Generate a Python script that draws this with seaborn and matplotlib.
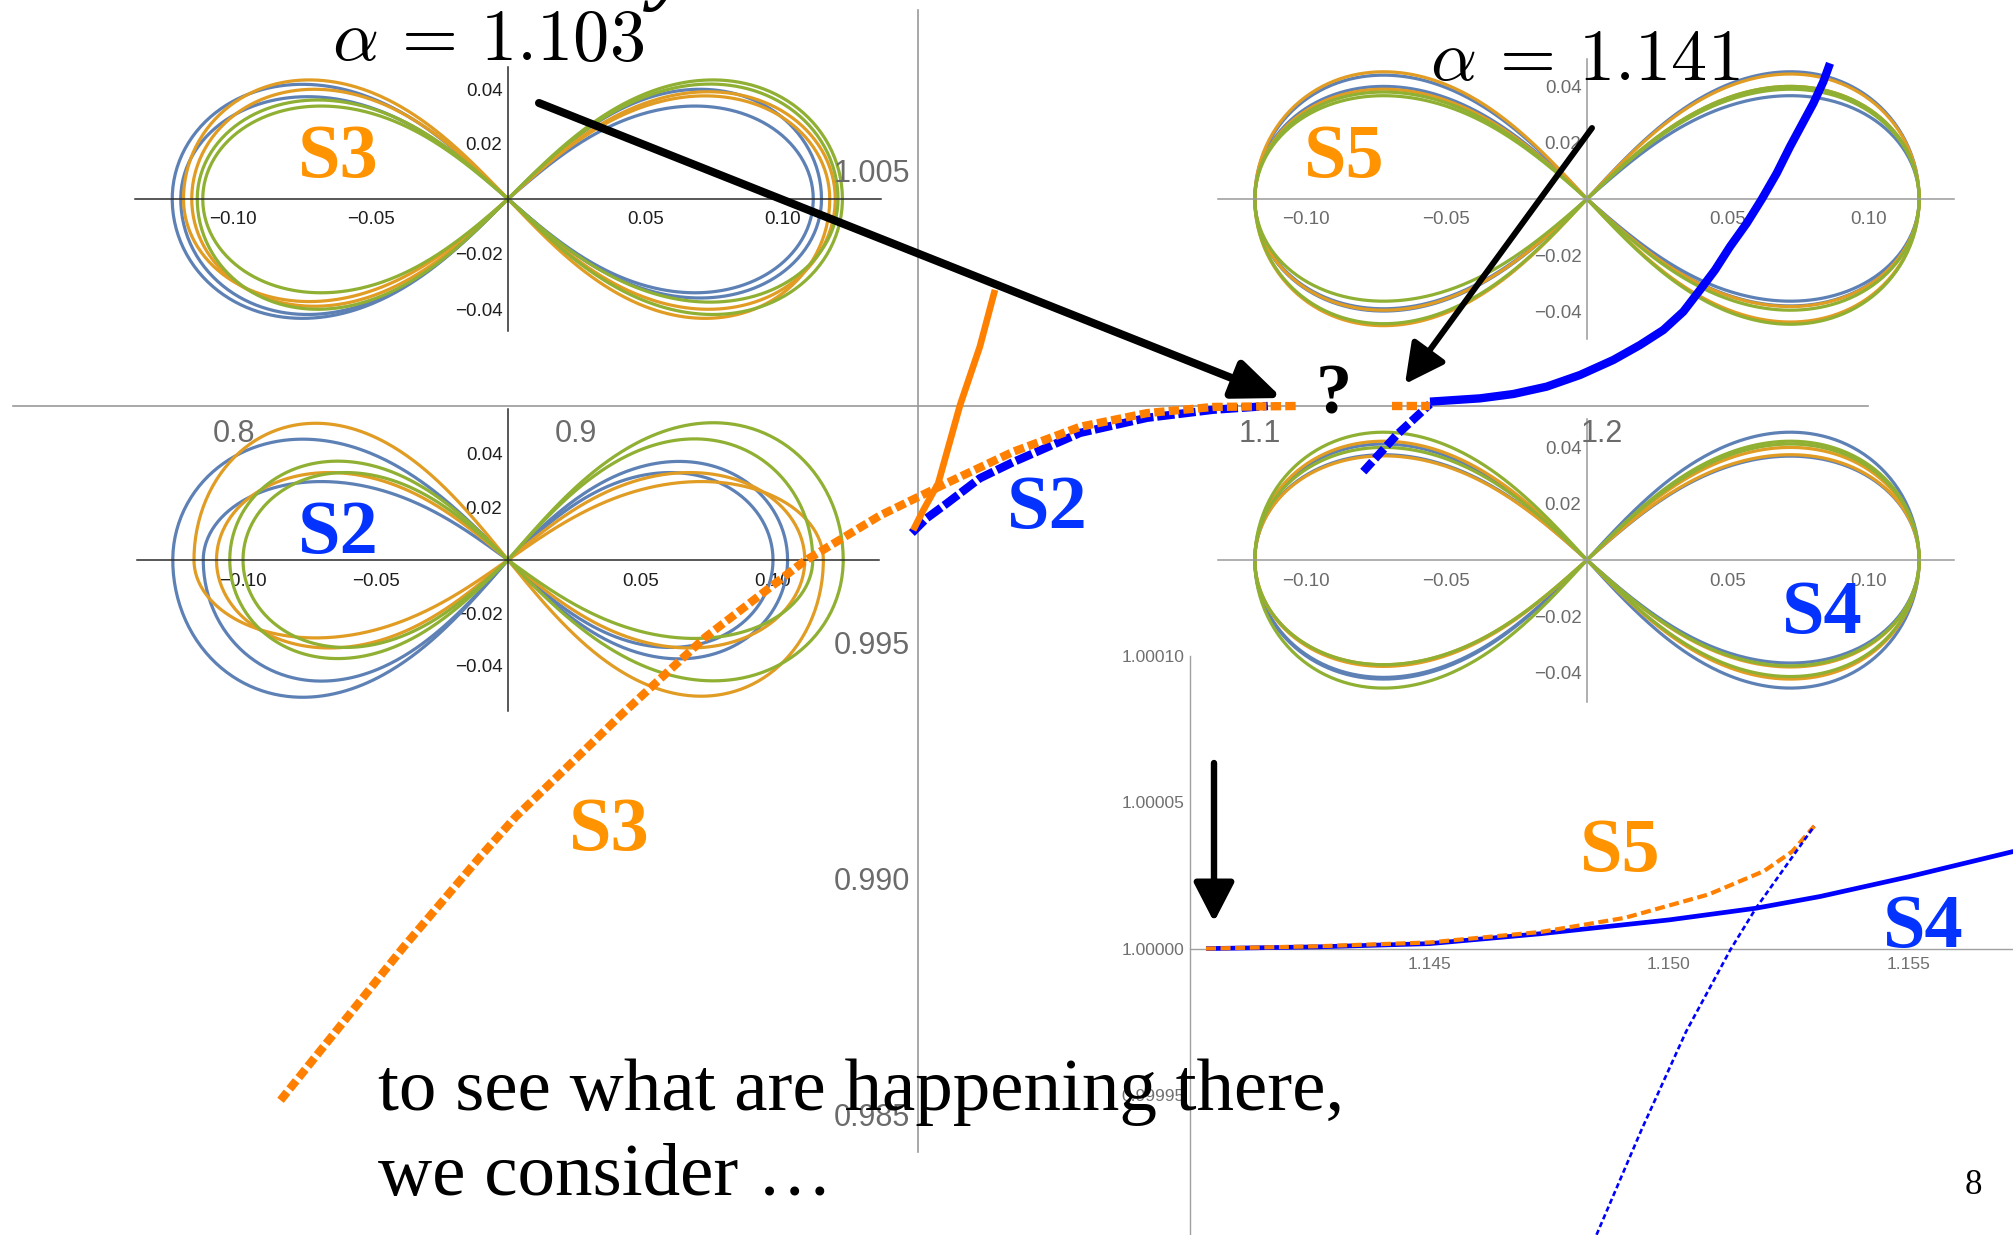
import numpy as np
import matplotlib
matplotlib.use("Agg")
import matplotlib.pyplot as plt
import seaborn as sns
from matplotlib.ticker import FixedLocator, FixedFormatter

# ---------------- data ----------------
# main diagram: branches near alpha ~ 1 (x = alpha, y = value)
s3_x = [0.8136, 0.8311, 0.8495, 0.8721, 0.8824, 0.9131, 0.9378, 0.9665, 0.9889,
        1.0085, 1.0278, 1.0474, 1.0670, 1.0863, 1.1108]
s3_y = [0.98529, 0.98687, 0.98853, 0.99046, 0.99130, 0.99345, 0.99510, 0.99670, 0.99768,
        0.99837, 0.99903, 0.99956, 0.99985, 0.99998, 1.00000]

s2_x = [0.9982, 1.0025, 1.0085, 1.0181, 1.0278, 1.0474, 1.0670, 1.0863, 1.1023]
s2_y = [0.99731, 0.99762, 0.99794, 0.99847, 0.99881, 0.99943, 0.99975, 0.99992, 1.00000]

branch_x = [0.9986, 1.0016, 1.0059, 1.0123, 1.0181, 1.0225]
branch_y = [0.99737, 0.99780, 0.99836, 1.00002, 1.00126, 1.00246]

s4_x = [1.14971, 1.16433, 1.17407, 1.18382, 1.19357, 1.20331, 1.21111, 1.21793, 1.22378,
        1.22865, 1.23304, 1.23743, 1.24230, 1.24669, 1.25107, 1.25497, 1.25838, 1.26179,
        1.26472, 1.26667]
s4_y = [1.000092, 1.000162, 1.000254, 1.000410, 1.000657, 1.000975, 1.001292, 1.001610,
        1.001999, 1.002458, 1.002881, 1.003376, 1.003870, 1.004379, 1.004929, 1.005494,
        1.005953, 1.006412, 1.006871, 1.007260]

s5_x = [1.1385, 1.1497]
s5_y = [1.00000, 1.00000]

steep_x = [1.1302, 1.1400, 1.1497]
steep_y = [0.99861, 0.99939, 1.00004]

# zoomed view around alpha = 1.141
z_s4_x = [1.14033, 1.14266, 1.1450, 1.14733, 1.1500, 1.15182, 1.15316, 1.1550, 1.1572]
z_s4_y = [1.0, 1.0000006, 1.0000017, 1.0000051, 1.0000098, 1.0000138, 1.0000178,
          1.0000245, 1.0000332]
z_s5_x = [1.14033, 1.14266, 1.1450, 1.14733, 1.14908, 1.15083, 1.15199, 1.15258, 1.15304]
z_s5_y = [1.0, 1.0000008, 1.0000021, 1.0000057, 1.0000105, 1.0000185, 1.0000265,
          1.0000332, 1.0000419]
z_dot_x = [1.14849, 1.14943, 1.15036, 1.15129, 1.15182, 1.15304]
z_dot_y = [0.9999022, 0.9999381, 0.9999716, 0.9999997, 1.0000138, 1.0000419]

# orbit shapes: (colour, left width, left top, left bottom, right width, right top, right bottom)
S3_ORBITS = [("b", .1221, .0417, -.0434, .1110, .0338, -.0341),
             ("b", .1190, .0372, -.0420, .1140, .0399, -.0360),
             ("o", .1180, .0433, -.0373, .1170, .0375, -.0434),
             ("o", .1150, .0399, -.0390, .1190, .0390, -.0401),
             ("g", .1110, .0338, -.0341, .1216, .0433, -.0420),
             ("g", .1130, .0360, -.0401, .1200, .0418, -.0375)]
S5_ORBITS = [("b", .118, .0440, -.0398, .118, .0452, -.0363),
             ("b", .118, .0400, -.0390, .118, .0367, -.0380),
             ("o", .118, .0452, -.0450, .118, .0444, -.0437),
             ("o", .118, .0390, -.0395, .118, .0400, -.0382),
             ("g", .118, .0367, -.0363, .118, .0400, -.0445),
             ("g", .118, .0380, -.0443, .118, .0390, -.0395)]
S2_ORBITS = [("b", .1265, .0456, -.0518, .1055, .0372, -.0373),
             ("b", .1150, .0296, -.0457, .1000, .0330, -.0330),
             ("o", .1185, .0516, -.0294, .1190, .0296, -.0514),
             ("o", .1100, .0330, -.0332, .1120, .0330, -.0332),
             ("g", .1050, .0373, -.0372, .1265, .0518, -.0456),
             ("g", .1000, .0330, -.0330, .1150, .0457, -.0296)]
S4_ORBITS = [("b", .118, .0412, -.0423, .118, .0454, -.0455),
             ("b", .118, .0374, -.0417, .118, .0369, -.0366),
             ("o", .118, .0422, -.0378, .118, .0374, -.0423),
             ("o", .118, .0370, -.0372, .118, .0400, -.0380),
             ("g", .118, .0454, -.0455, .118, .0422, -.0414),
             ("g", .118, .0400, -.0372, .118, .0412, -.0376)]

ORBIT_COLORS = {"b": "#5E81B5", "o": "#E19C24", "g": "#8FB032"}
MAIN_X_TICKS = [0.8, 0.9, 1.1, 1.2]
MAIN_X_LABELS = ["0.8", "0.9", "1.1", "1.2"]
MAIN_Y_TICKS = [0.985, 0.990, 0.995, 1.005]
MAIN_Y_LABELS = ["0.985", "0.990", "0.995", "1.005"]
ZOOM_X_TICKS = [1.145, 1.150, 1.155]
ZOOM_X_LABELS = ["1.145", "1.150", "1.155"]
ZOOM_Y_TICKS = [0.99990, 0.99995, 1.00000, 1.00005, 1.00010]
ZOOM_Y_LABELS = ["0.99990", "0.99995", "1.00000", "1.00005", "1.00010"]
ORB_X_TICKS = [-0.10, -0.05, 0.05, 0.10]
ORB_X_LABELS = ["\u22120.10", "\u22120.05", "0.05", "0.10"]
ORB_Y_TICKS = [-0.04, -0.02, 0.02, 0.04]
ORB_Y_LABELS = ["\u22120.04", "\u22120.02", "0.02", "0.04"]

# ---------------- styling ----------------
W, H = 2013, 1235
sns.set_theme(style="white")
plt.rcParams["font.family"] = ["Liberation Sans", "DejaVu Sans"]
plt.rcParams["mathtext.fontset"] = "cm"
SERIF = ["Liberation Serif", "DejaVu Serif"]
ORANGE_LINE = "#FF8000"
BLUE_LINE = "#0000FF"
ORANGE_TXT = "#FF9300"
BLUE_TXT = "#0433FF"

fig = plt.figure(figsize=(W / 100, H / 100), dpi=100)
fig.patch.set_facecolor("white")


def px_axes(left, top, right, bottom, z):
    ax = fig.add_axes([left / W, 1 - bottom / H, (right - left) / W, (bottom - top) / H])
    ax.set_zorder(z)
    ax.patch.set_alpha(0)
    return ax


def line(ax, x, y, color, lw, dashes=None, z=3):
    kw = dict(x=np.asarray(x), y=np.asarray(y), ax=ax, color=color, lw=lw,
              sort=False, estimator=None, legend=False, zorder=z)
    if dashes is not None:
        kw["linestyle"] = (0, dashes)
        kw["dash_capstyle"] = "butt"
    else:
        kw["solid_capstyle"] = "butt"
    kw["solid_joinstyle"] = "round"
    sns.lineplot(**kw)


def orbit_path(lw_, lt, lb, rw, rt, rb, n=600):
    t = np.linspace(0, 2 * np.pi, n)
    d = 1 + np.sin(t) ** 2
    u = np.cos(t) / d
    v = np.sin(t) * np.cos(t) / d / 0.353553
    x = np.where(u >= 0, u * rw, u * lw_)
    top = np.where(u >= 0, rt, lt)
    bot = np.where(u >= 0, abs(rb), abs(lb))
    y = np.where(v >= 0, v * top, v * bot)
    return x, y


def orbit_panel(center, scale, xr, yr, orbits, axis_col, label_col):
    cx, cy = center
    ax = px_axes(cx + xr[0] * scale, cy - yr[1] * scale, cx + xr[1] * scale,
                 cy - yr[0] * scale, z=1)
    for c, *dims in orbits:
        x, y = orbit_path(*dims)
        line(ax, x, y, ORBIT_COLORS[c], 2.3, z=2)
    ax.set_xlim(*xr)
    ax.set_ylim(*yr)
    for s in ("top", "right"):
        ax.spines[s].set_visible(False)
    ax.spines["left"].set_position(("data", 0))
    ax.spines["bottom"].set_position(("data", 0))
    for s in ("left", "bottom"):
        ax.spines[s].set_color(axis_col)
        ax.spines[s].set_linewidth(1.1)
    ax.xaxis.set_major_locator(FixedLocator(ORB_X_TICKS))
    ax.xaxis.set_major_formatter(FixedFormatter(ORB_X_LABELS))
    ax.yaxis.set_major_locator(FixedLocator(ORB_Y_TICKS))
    ax.yaxis.set_major_formatter(FixedFormatter(ORB_Y_LABELS))
    ax.xaxis.set_minor_locator(FixedLocator(np.round(np.arange(-0.13, 0.131, 0.01), 3)))
    ax.yaxis.set_minor_locator(FixedLocator(np.round(np.arange(-0.055, 0.056, 0.005), 3)))
    ax.tick_params(which="both", direction="in", color=axis_col, width=1,
                   labelcolor=label_col, labelsize=13.5)
    ax.tick_params(which="major", length=5.5)
    ax.tick_params(which="minor", length=2.8)
    ax.tick_params(axis="x", which="major", pad=9)
    ax.tick_params(axis="y", which="major", pad=4)
    ax.set_xlabel("")
    ax.set_ylabel("")
    ax.grid(False)
    return ax


# ---------------- orbit insets ----------------
orbit_panel((508, 199), 2750, (-0.1355, 0.1355), (-0.048, 0.048), S3_ORBITS, "#2a2a2a", "#1e1e1e")
orbit_panel((1587, 199), 2815, (-0.131, 0.1305), (-0.0496, 0.0498), S5_ORBITS, "#9a9a9a", "#6b6b6b")
orbit_panel((508, 560), 2650, (-0.140, 0.140), (-0.057, 0.057), S2_ORBITS, "#2a2a2a", "#1e1e1e")
orbit_panel((1587, 560), 2815, (-0.131, 0.1305), (-0.0503, 0.050), S4_ORBITS, "#9a9a9a", "#6b6b6b")

# ---------------- main diagram ----------------
ax = px_axes(0, 0, W, H, z=2)
line(ax, s2_x, s2_y, BLUE_LINE, 6, dashes=(2.1, 0.45), z=3)
line(ax, s3_x, s3_y, ORANGE_LINE, 6, dashes=(1.25, 0.5), z=4)
line(ax, branch_x, branch_y, ORANGE_LINE, 4.8, z=3)
line(ax, s4_x, s4_y, BLUE_LINE, 6, z=3)
line(ax, steep_x, steep_y, BLUE_LINE, 6, dashes=(1.6, 0.5), z=3)
line(ax, s5_x, s5_y, ORANGE_LINE, 6, dashes=(1.25, 0.5), z=4)
ax.set_xlim(1 - 918 / 3420, 1 + (W - 918) / 3420)
ax.set_ylim(1 - (H - 406) / 47200, 1 + 406 / 47200)
for s in ("top", "right"):
    ax.spines[s].set_visible(False)
ax.spines["left"].set_position(("data", 1.0))
ax.spines["bottom"].set_position(("data", 1.0))
ax.spines["left"].set_bounds(0.98419, 1.00839)
ax.spines["bottom"].set_bounds(0.7354, 1.2778)
for s in ("left", "bottom"):
    ax.spines[s].set_color("#9a9a9a")
    ax.spines[s].set_linewidth(1.2)
ax.xaxis.set_major_locator(FixedLocator(MAIN_X_TICKS))
ax.xaxis.set_major_formatter(FixedFormatter(MAIN_X_LABELS))
ax.yaxis.set_major_locator(FixedLocator(MAIN_Y_TICKS))
ax.yaxis.set_major_formatter(FixedFormatter(MAIN_Y_LABELS))
ax.xaxis.set_minor_locator(FixedLocator(
    [v for v in np.round(np.arange(0.74, 1.28, 0.02), 2) if v not in MAIN_X_TICKS]))
ax.yaxis.set_minor_locator(FixedLocator(
    [v for v in np.round(np.arange(0.984, 1.0085, 0.001), 3) if v not in MAIN_Y_TICKS]))
ax.tick_params(which="both", direction="in", color="#9a9a9a", width=1.1,
               labelcolor="#6b6b6b", labelsize=22)
ax.tick_params(which="major", length=8.5)
ax.tick_params(which="minor", length=5)
ax.tick_params(axis="x", which="major", pad=9)
ax.tick_params(axis="y", which="major", pad=6)
ax.set_xlabel("")
ax.set_ylabel("")
ax.grid(False)

# ---------------- zoomed view ----------------
zx0, zpx = 1190.2, 47860
zy0, zpy = 948.6, 2926000
az = px_axes(zx0, 654, 2020, 1262, z=3)
line(az, z_s4_x, z_s4_y, BLUE_LINE, 3.4, z=3)
line(az, z_s5_x, z_s5_y, ORANGE_LINE, 3.0, dashes=(2.4, 1.1), z=4)
line(az, z_dot_x, z_dot_y, BLUE_LINE, 1.9, dashes=(2.0, 1.2), z=5)
az.set_xlim(1.140, 1.140 + (2020 - zx0) / zpx)
az.set_ylim(1 - (1262 - zy0) / zpy, 1 + (zy0 - 654) / zpy)
for s in ("top", "right"):
    az.spines[s].set_visible(False)
az.spines["bottom"].set_position(("data", 1.0))
az.spines["left"].set_bounds(0.99988, 1.00010)
for s in ("left", "bottom"):
    az.spines[s].set_color("#a0a0a0")
    az.spines[s].set_linewidth(1.0)
az.xaxis.set_major_locator(FixedLocator(ZOOM_X_TICKS))
az.xaxis.set_major_formatter(FixedFormatter(ZOOM_X_LABELS))
az.yaxis.set_major_locator(FixedLocator(ZOOM_Y_TICKS))
az.yaxis.set_major_formatter(FixedFormatter(ZOOM_Y_LABELS))
az.xaxis.set_minor_locator(FixedLocator(
    [v for v in np.round(np.arange(1.141, 1.1575, 0.001), 3) if v not in ZOOM_X_TICKS]))
az.yaxis.set_minor_locator(FixedLocator(
    [v for v in np.round(np.arange(0.99989, 1.000101, 0.00001), 5) if v not in ZOOM_Y_TICKS]))
az.tick_params(which="both", direction="in", color="#a0a0a0", width=1,
               labelcolor="#707070", labelsize=12.5)
az.tick_params(which="major", length=6)
az.tick_params(which="minor", length=3.5)
az.tick_params(axis="x", which="major", pad=6)
az.tick_params(axis="y", which="major", pad=4)
az.set_xlabel("")
az.set_ylabel("")
az.grid(False)

# ---------------- annotations (pixel coordinates) ----------------
ov = px_axes(0, 0, W, H, z=10)
ov.set_xlim(0, W)
ov.set_ylim(H, 0)
ov.axis("off")

ov.text(331.6, 60, r"$\alpha\, = \, 1.103$", fontsize=52, ha="left", va="baseline", color="black")
ov.text(1430, 80, r"$\alpha\, = \, 1.141$", fontsize=52, ha="left", va="baseline", color="black")
ov.text(672, -7, "y", family=SERIF, fontweight="bold", fontstyle="italic", fontsize=64,
        ha="center", va="baseline", color="black")
ov.text(1334, 413, "?", family=SERIF, fontweight="bold", fontsize=52, ha="center",
        va="baseline", color="black")

labels = [("S3", 338, 177, ORANGE_TXT), ("S5", 1344, 177, ORANGE_TXT),
          ("S2", 338, 553, BLUE_TXT), ("S2", 1047, 528, BLUE_TXT),
          ("S4", 1822, 633, BLUE_TXT), ("S3", 609, 850, ORANGE_TXT),
          ("S5", 1620, 871, ORANGE_TXT), ("S4", 1923, 947, BLUE_TXT)]
for txt, x, y, c in labels:
    ov.text(x, y, txt, family=SERIF, fontweight="bold", fontsize=55, ha="center",
            va="baseline", color=c)

ov.text(378, 1110, "to see what are happening there,", family=SERIF, fontsize=54,
        ha="left", va="baseline", color="black")
ov.text(378, 1195, "we consider \u2026", family=SERIF, fontsize=54,
        ha="left", va="baseline", color="black")
ov.text(1973, 1194, "8", family=SERIF, fontsize=25, ha="center", va="baseline", color="black")

arrows = [((539, 103), (1282, 398), 5.8, 1.45, 0.6),
          ((1592, 128), (1405, 384), 4.3, 1.2, 0.62),
          ((1214, 763), (1214, 922), 4.6, 1.2, 0.62)]
for start, tip, lw_, hl, hw in arrows:
    ov.annotate("", xy=tip, xytext=start,
                arrowprops=dict(arrowstyle=f"-|>,head_length={hl},head_width={hw}",
                                lw=lw_, color="black", shrinkA=0, shrinkB=0,
                                mutation_scale=20))

fig.savefig("out.png", dpi=100, facecolor="white")
